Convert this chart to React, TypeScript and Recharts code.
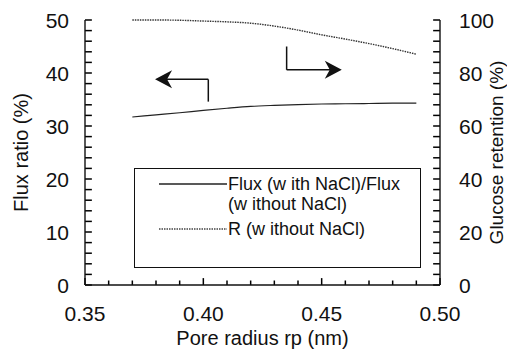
import React from "react";
import {
  LineChart,
  Line,
  XAxis,
  YAxis,
  Legend,
  ReferenceLine,
  ReferenceDot,
} from "recharts";

// ---- data ----
const poreRadius = [0.37, 0.38, 0.39, 0.4, 0.41, 0.42, 0.43, 0.44, 0.45, 0.46, 0.47, 0.48, 0.49];
const fluxRatio = [31.7, 32.1, 32.5, 32.95, 33.35, 33.7, 33.9, 34.05, 34.15, 34.2, 34.25, 34.3, 34.3];
const glucoseRetention = [100, 100, 99.9, 99.6, 99.3, 98.8, 97.7, 96.2, 94.4, 92.8, 91.1, 89.2, 87.1];

const xTicks = [0.35, 0.36, 0.37, 0.38, 0.39, 0.4, 0.41, 0.42, 0.43, 0.44, 0.45, 0.46, 0.47, 0.48, 0.49, 0.5];
const leftTicks = [0, 2, 4, 6, 8, 10, 12, 14, 16, 18, 20, 22, 24, 26, 28, 30, 32, 34, 36, 38, 40, 42, 44, 46, 48, 50];
const rightTicks = [0, 4, 8, 12, 16, 20, 24, 28, 32, 36, 40, 44, 48, 52, 56, 60, 64, 68, 72, 76, 80, 84, 88, 92, 96, 100];

const seriesNames = ["Flux (w ith NaCl)/Flux", "(w ithout NaCl)", "R (w ithout NaCl)"];
const xLabel = "Pore radius rp (nm)";
const leftLabel = "Flux ratio (%)";
const rightLabel = "Glucose retention (%)";

// annotation arrows (in data units: x, left-axis y)
const leftArrow = { tipX: 0.3796, cornerX: 0.4021, y: 38.8, endY: 34.6 };
const rightArrow = { stemX: 0.4352, startY: 45.0, y: 40.6, tipX: 0.4585 };

const X_MIN = 0.35;
const X_MAX = 0.5;
// inward tick-mark lengths, expressed in axis units
const X_MINOR_LEN = 0.85;
const X_MAJOR_LEN = 1.3;
const Y_TICK_LEN = 0.0029;

const data = poreRadius.map((x, i) => ({ x, flux: fluxRatio[i], ret: glucoseRetention[i] }));

const FONT = "'Liberation Sans', Arial, Helvetica, sans-serif";
const INK = "#111";

const XTick = (props: any) => {
  const x = Number(props.x);
  const y = Number(props.y);
  const v = Number(props.payload.value);
  const major = Math.round(v * 100) % 5 === 0;
  if (!major) return <g />;
  return (
    <text x={x} y={y + 36} textAnchor="middle" fontSize={21} fontFamily={FONT} fill={INK}>
      {v.toFixed(2)}
    </text>
  );
};

const LeftTick = (props: any) => {
  const x = Number(props.x);
  const y = Number(props.y);
  const v = Number(props.payload.value);
  if (v % 10 !== 0) return <g />;
  return (
    <text x={x - 16} y={y} dy="0.36em" textAnchor="end" fontSize={21} fontFamily={FONT} fill={INK}>
      {v}
    </text>
  );
};

const RightTick = (props: any) => {
  const x = Number(props.x);
  const y = Number(props.y);
  const v = Number(props.payload.value);
  if (v % 20 !== 0) return <g />;
  return (
    <text x={x + 19} y={y} dy="0.36em" textAnchor="start" fontSize={21} fontFamily={FONT} fill={INK}>
      {v}
    </text>
  );
};

const LeftHead = (props: any) => {
  const { cx, cy } = props;
  return (
    <polygon
      points={`${cx},${cy} ${cx + 17},${cy - 9} ${cx + 12},${cy} ${cx + 17},${cy + 9}`}
      fill={INK}
    />
  );
};

const RightHead = (props: any) => {
  const { cx, cy } = props;
  return (
    <polygon
      points={`${cx},${cy} ${cx - 17},${cy - 9} ${cx - 12},${cy} ${cx - 17},${cy + 9}`}
      fill={INK}
    />
  );
};

const LegendBox = () => (
  <div
    style={{
      boxSizing: "border-box",
      width: 287,
      height: 100,
      border: `1.3px solid ${INK}`,
      background: "#fff",
      position: "relative",
    }}
  >
    <svg width={285} height={98} style={{ position: "absolute", left: 0, top: 0 }}>
      <line x1={24} y1={15} x2={92} y2={15} stroke="#222" strokeWidth={1.3} />
      <line x1={24} y1={60} x2={92} y2={60} stroke="#444" strokeWidth={1.5} strokeDasharray="1.5 1" />
      <text x={93} y={15} dy="0.36em" fontSize={18} fontFamily={FONT} fill={INK}>
        {seriesNames[0]}
      </text>
      <text x={93} y={35} dy="0.36em" fontSize={18} fontFamily={FONT} fill={INK}>
        {seriesNames[1]}
      </text>
      <text x={93} y={60} dy="0.36em" fontSize={18} fontFamily={FONT} fill={INK}>
        {seriesNames[2]}
      </text>
    </svg>
  </div>
);

const xTickMarks = xTicks.map((v) => (
  <ReferenceLine
    key={`xt${v}`}
    yAxisId="left"
    ifOverflow="visible"
    segment={[
      { x: v, y: 0 },
      { x: v, y: Math.round(v * 100) % 5 === 0 ? X_MAJOR_LEN : X_MINOR_LEN },
    ]}
    stroke="#000"
    strokeWidth={1.5}
  />
));

const leftTickMarks = leftTicks.map((v) => (
  <ReferenceLine
    key={`lt${v}`}
    yAxisId="left"
    ifOverflow="visible"
    segment={[
      { x: X_MIN, y: v },
      { x: X_MIN + Y_TICK_LEN, y: v },
    ]}
    stroke="#000"
    strokeWidth={1.5}
  />
));

const rightTickMarks = rightTicks.map((v) => (
  <ReferenceLine
    key={`rt${v}`}
    yAxisId="right"
    ifOverflow="visible"
    segment={[
      { x: X_MAX, y: v },
      { x: X_MAX - Y_TICK_LEN, y: v },
    ]}
    stroke="#000"
    strokeWidth={1.5}
  />
));

export default function App() {
  return (
    <div style={{ position: "absolute", left: 0, top: 0, background: "#fff" }}>
      <LineChart
        width={507}
        height={352}
        data={data}
        margin={{ top: 20, right: 7, left: 25, bottom: 7 }}
      >
        <XAxis
          dataKey="x"
          type="number"
          domain={[X_MIN, X_MAX]}
          ticks={xTicks}
          interval={0}
          tickSize={0}
          tickMargin={0}
          tickLine={false}
          axisLine={{ stroke: INK, strokeWidth: 1.4 }}
          tick={<XTick />}
          height={60}
          label={{
            value: xLabel,
            position: "insideBottom",
            offset: 0,
            style: { fontSize: 20, fontFamily: FONT, fill: INK },
          }}
        />
        <YAxis
          yAxisId="left"
          orientation="left"
          type="number"
          domain={[0, 50]}
          ticks={leftTicks}
          interval={0}
          tickSize={0}
          tickMargin={0}
          tickLine={false}
          axisLine={{ stroke: INK, strokeWidth: 1.4 }}
          tick={<LeftTick />}
          width={60}
          label={{
            value: leftLabel,
            angle: -90,
            position: "insideLeft",
            offset: -4,
            style: { fontSize: 20, fontFamily: FONT, fill: INK, textAnchor: "middle" },
          }}
        />
        <YAxis
          yAxisId="right"
          orientation="right"
          type="number"
          domain={[0, 100]}
          ticks={rightTicks}
          interval={0}
          tickSize={0}
          tickMargin={0}
          tickLine={false}
          axisLine={{ stroke: INK, strokeWidth: 1.4 }}
          tick={<RightTick />}
          width={60}
          label={{
            value: rightLabel,
            angle: -90,
            position: "insideRight",
            offset: 4,
            style: { fontSize: 19, fontFamily: FONT, fill: INK, textAnchor: "middle" },
          }}
        />
        {xTickMarks}
        {leftTickMarks}
        {rightTickMarks}
        <Line
          yAxisId="left"
          dataKey="flux"
          name={seriesNames[0]}
          type="monotone"
          stroke="#222"
          strokeWidth={1.2}
          dot={false}
          isAnimationActive={false}
        />
        <Line
          yAxisId="right"
          dataKey="ret"
          name={seriesNames[2]}
          type="monotone"
          stroke="#333"
          strokeWidth={1.4}
          strokeDasharray="1.5 1"
          dot={false}
          isAnimationActive={false}
        />
        <ReferenceLine
          yAxisId="left"
          segment={[
            { x: leftArrow.tipX + 0.004, y: leftArrow.y },
            { x: leftArrow.cornerX, y: leftArrow.y },
          ]}
          stroke={INK}
          strokeWidth={1.5}
        />
        <ReferenceLine
          yAxisId="left"
          segment={[
            { x: leftArrow.cornerX, y: leftArrow.y },
            { x: leftArrow.cornerX, y: leftArrow.endY },
          ]}
          stroke={INK}
          strokeWidth={1.5}
        />
        <ReferenceDot yAxisId="left" x={leftArrow.tipX} y={leftArrow.y} r={1} shape={<LeftHead />} />
        <ReferenceLine
          yAxisId="left"
          segment={[
            { x: rightArrow.stemX, y: rightArrow.startY },
            { x: rightArrow.stemX, y: rightArrow.y },
          ]}
          stroke={INK}
          strokeWidth={1.5}
        />
        <ReferenceLine
          yAxisId="left"
          segment={[
            { x: rightArrow.stemX, y: rightArrow.y },
            { x: rightArrow.tipX - 0.004, y: rightArrow.y },
          ]}
          stroke={INK}
          strokeWidth={1.5}
        />
        <ReferenceDot yAxisId="left" x={rightArrow.tipX} y={rightArrow.y} r={1} shape={<RightHead />} />
        <Legend
          layout="vertical"
          align="center"
          verticalAlign="middle"
          content={<LegendBox />}
          wrapperStyle={{ left: 134, top: 168, width: 287, height: 100 }}
        />
      </LineChart>
    </div>
  );
}
